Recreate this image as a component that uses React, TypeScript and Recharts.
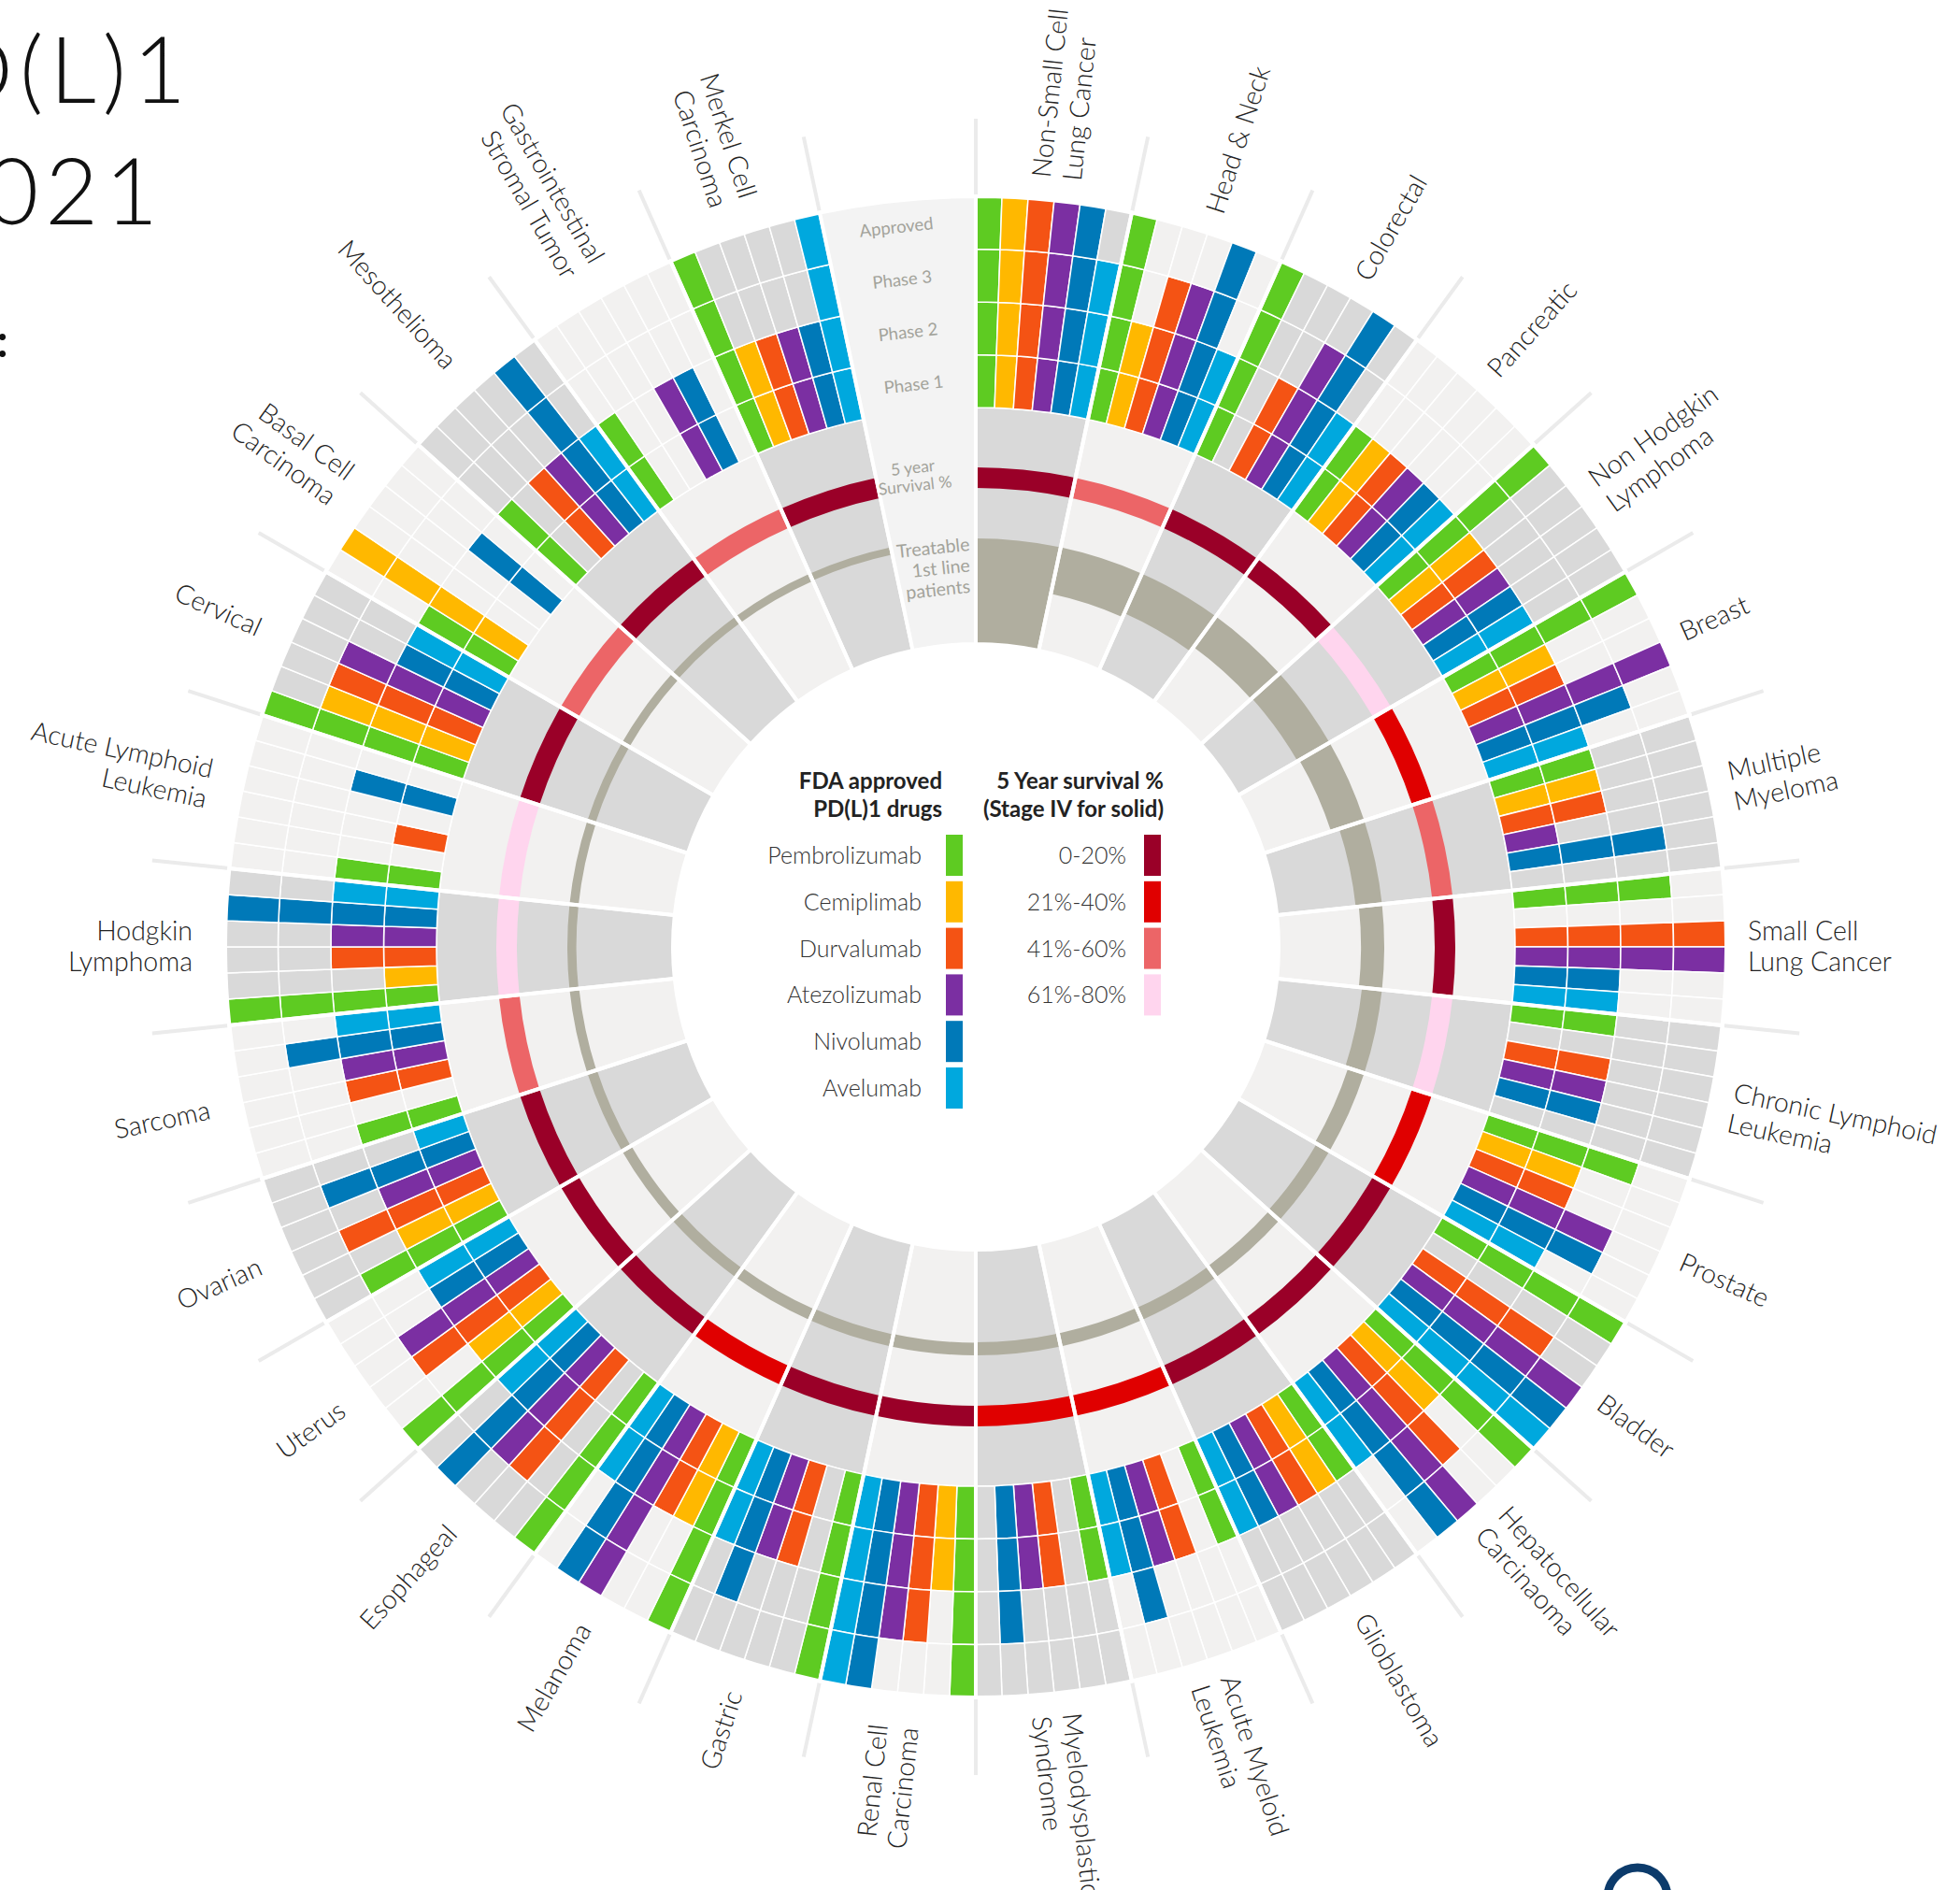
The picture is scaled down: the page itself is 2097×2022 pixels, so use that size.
import React from 'react'
import {
  PieChart,
  Pie,
  Cell,
  RadialBarChart,
  RadialBar,
  PolarAngleAxis,
  PolarRadiusAxis,
  PolarGrid,
} from 'recharts'

const W = 2097
const H = 2022
const CX = 1044
const CY = 1013

// clockwise from 12 o'clock, one 12 degree sector each
const CANCERS = [
  'Non-Small Cell\nLung Cancer', 'Head & Neck', 'Colorectal', 'Pancreatic', 'Non Hodgkin\nLymphoma',
  'Breast', 'Multiple\nMyeloma', 'Small Cell\nLung Cancer', 'Chronic Lymphoid\nLeukemia', 'Prostate',
  'Bladder', 'Hepatocellular\nCarcinaoma', 'Glioblastoma', 'Acute Myeloid\nLeukemia', 'Myelodysplastic\nSyndrome',
  'Renal Cell\nCarcinoma', 'Gastric', 'Melanoma', 'Esophageal', 'Uterus',
  'Ovarian', 'Sarcoma', 'Hodgkin\nLymphoma', 'Acute Lymphoid\nLeukemia', 'Cervical',
  'Basal Cell\nCarcinoma', 'Mesothelioma', 'Gastrointestinal\nStromal Tumor', 'Merkel Cell\nCarcinoma',
]

const DRUGS = ['Pembrolizumab', 'Cemiplimab', 'Durvalumab', 'Atezolizumab', 'Nivolumab', 'Avelumab']
const DRUG_COLORS = ['#5ECB22', '#FFB800', '#F45314', '#7B2FA2', '#0079B8', '#00A8DE']
const PHASES = ['Phase 1', 'Phase 2', 'Phase 3', 'Approved']

// furthest stage reached per cancer: 0 none, 1 phase 1, 2 phase 2, 3 phase 3, 4 approved
const PEMBROLIZUMAB = [4, 4, 4, 2, 4, 4, 2, 3, 2, 3, 4, 4, 2, 2, 2, 4, 4, 4, 4, 4, 3, 2, 4, 2, 4, 2, 2, 2, 4]
const CEMIPLIMAB = [4, 2, 0, 2, 2, 2, 2, 0, 0, 2, 0, 2, 2, 0, 0, 2, 0, 2, 0, 2, 2, 0, 1, 0, 3, 4, 0, 0, 2]
const DURVALUMAB = [4, 3, 2, 2, 2, 2, 2, 4, 2, 2, 3, 3, 2, 2, 2, 3, 2, 2, 3, 3, 3, 2, 2, 1, 3, 0, 2, 0, 2]
const ATEZOLIZUMAB = [4, 3, 3, 2, 2, 4, 1, 4, 2, 3, 4, 4, 2, 2, 2, 3, 2, 4, 3, 3, 2, 2, 2, 0, 3, 0, 2, 2, 2]
const NIVOLUMAB = [4, 4, 4, 2, 2, 3, 3, 2, 2, 3, 4, 4, 2, 3, 3, 4, 3, 4, 4, 2, 3, 3, 4, 2, 2, 2, 4, 2, 2]
const AVELUMAB = [3, 2, 2, 2, 2, 2, 0, 2, 0, 2, 4, 2, 2, 2, 0, 4, 2, 2, 2, 2, 1, 2, 2, 0, 2, 0, 2, 0, 4]
const DRUG_LEVELS = [PEMBROLIZUMAB, CEMIPLIMAB, DURVALUMAB, ATEZOLIZUMAB, NIVOLUMAB, AVELUMAB]

const SURVIVAL_BINS = ['0-20%', '21%-40%', '41%-60%', '61%-80%']
const SURVIVAL_COLORS = ['#9A0028', '#E00000', '#EC6567', '#FFD5EE']
const SURVIVAL = [0, 2, 0, 0, 3, 1, 2, 0, 3, 1, 0, 0, 0, 1, 1, 0, 0, 1, 0, 0, 0, 2, 3, 3, 0, 2, 0, 2, 0]

// treatable 1st line patients, relative to NSCLC = 100
const TREATABLE = [100, 45, 41, 36, 35, 33, 25, 22, 19, 16, 14, 13, 12.5, 12.5, 12.5, 12, 11.5, 11, 10.5, 10, 9.5, 9, 8.5, 8.5, 8, 8, 7.5, 7.5, 7]

const GRAY_DARK = '#D9D9D9'
const GRAY_LIGHT = '#F2F1F0'
const KEY_FILL = '#F3F3F3'
const TAN = '#B0AE9F'
const CAPTION = '#A3A39B'
const FONT = 'Lato, "Open Sans", sans-serif'
const NO_MARGIN = { top: 0, right: 0, bottom: 0, left: 0 }

const R_INNER = 324
const R_TAN_BASE = 437
const R_SURV_IN = 491
const R_SURV_OUT = 513
const R_GRID_IN = 577
const ROW_H = 56.5
const R_GRID_OUT = R_GRID_IN + PHASES.length * ROW_H
const R_TICK_OUT = 886
const R_LABEL = 826
const R_LABEL_LEFT = 838

const SECTOR_COUNT = CANCERS.length + 1 // the last sector holds the ring captions
const SECTOR_DEG = 360 / SECTOR_COUNT
const RAD = Math.PI / 180

const sectorGray = (s: number) => (s % 2 === 0 ? GRAY_DARK : GRAY_LIGHT)

const sectors = Array.from({ length: SECTOR_COUNT }, (_, s) => ({ name: CANCERS[s] ?? 'key', value: 1 }))

const gridRows = PHASES.map((_, row) =>
  sectors.flatMap((_, s) =>
    DRUGS.map((_, d) => {
      const level = DRUG_LEVELS[d][s] ?? 0
      return { value: 1, fill: level > row ? DRUG_COLORS[d] : sectorGray(s) }
    })
  )
)

const survivalData = sectors.map((sec, s) => ({
  value: 1,
  fill: SURVIVAL[s] === undefined ? 'transparent' : SURVIVAL_COLORS[SURVIVAL[s]],
}))

const treatData = sectors.map((sec, s) => {
  const v = TREATABLE[s] ?? 0
  return { name: sec.name, tan: v, rest: 100 - v }
})

const boundaryAngles = sectors.map((_, s) => 90 - SECTOR_DEG * s)

const polar = (cx: number, cy: number, r: number, compass: number) => ({
  x: cx + r * Math.sin(compass * RAD),
  y: cy - r * Math.cos(compass * RAD),
})

function renderRingKey(cx: number, cy: number, compass: number) {
  const a = compass - 0.3
  const out: React.ReactNode[] = []
  PHASES.forEach((phase, row) => {
    const p = polar(cx, cy, R_GRID_IN + (row + 0.5) * ROW_H, a)
    out.push(
      <text key={phase} transform={`translate(${p.x},${p.y}) rotate(${a})`} textAnchor="middle" dy="0.35em"
        fontFamily={FONT} fontSize={18.5} fill={CAPTION}>{phase}</text>
    )
  })
  ;['5 year', 'Survival %'].forEach((line, k) => {
    const p = polar(cx, cy, 517 - k * 19, a - 1.2)
    out.push(
      <text key={line} transform={`translate(${p.x},${p.y}) rotate(${a})`} textAnchor="middle" dy="0.35em"
        fontFamily={FONT} fontSize={17.5} fill={CAPTION}>{line}</text>
    )
  })
  ;['Treatable', '1st line', 'patients'].forEach((line, k) => {
    const p = polar(cx, cy, 431 - k * 22.5, compass + 5.1)
    out.push(
      <text key={line} transform={`translate(${p.x},${p.y}) rotate(${compass})`} textAnchor="end" dy="0.35em"
        fontFamily={FONT} fontSize={19.5} fill={CAPTION}>{line}</text>
    )
  })
  return <g>{out}</g>
}

function renderSectorLabel(props: any) {
  const { cx, cy, midAngle, index } = props
  const compass = (((90 - midAngle) % 360) + 360) % 360
  if (index >= CANCERS.length) return renderRingKey(cx, cy, compass)
  const lines = CANCERS[index].split('\n')
  const right = compass < 180
  const p = polar(cx, cy, right ? R_LABEL : R_LABEL_LEFT, compass)
  const rot = right ? compass - 90 : compass + 90
  return (
    <text transform={`translate(${p.x},${p.y}) rotate(${rot})`} textAnchor={right ? 'start' : 'end'}
      fontFamily={FONT} fontSize={28.5} fontWeight={300} fill="#222">
      {lines.map((line, k) => (
        <tspan key={k} x={0} y={(k - (lines.length - 1) / 2) * 33} dy="0.35em">{line}</tspan>
      ))}
    </text>
  )
}

const LEGEND_ROW0 = 915
const LEGEND_STEP = 49.8

export default function App() {
  const layer: React.CSSProperties = { position: 'absolute', left: 0, top: 0 }
  return (
    <div style={{ position: 'absolute', left: 0, top: 0, width: W, height: H, overflow: 'hidden', background: '#fff' }}>
      <div style={layer}>
        <PieChart width={W} height={H} margin={NO_MARGIN}>
          <Pie data={sectors} dataKey="value" cx={CX} cy={CY} innerRadius={R_INNER} outerRadius={R_GRID_IN}
            startAngle={90} endAngle={-270} stroke="#fff" strokeWidth={1.5} isAnimationActive={false}>
            {sectors.map((_, s) => <Cell key={s} fill={sectorGray(s)} />)}
          </Pie>
          <Pie data={survivalData} dataKey="value" cx={CX} cy={CY} innerRadius={R_SURV_IN} outerRadius={R_SURV_OUT}
            startAngle={90} endAngle={-270} stroke="none" isAnimationActive={false}>
            {survivalData.map((d, s) => <Cell key={s} fill={d.fill} />)}
          </Pie>
          {gridRows.map((cells, row) => (
            <Pie key={row} data={cells} dataKey="value" cx={CX} cy={CY}
              innerRadius={R_GRID_IN + row * ROW_H} outerRadius={R_GRID_IN + (row + 1) * ROW_H}
              startAngle={90} endAngle={-270} stroke="#fff" strokeWidth={1.5} isAnimationActive={false}>
              {cells.map((c, i) => <Cell key={i} fill={c.fill} />)}
            </Pie>
          ))}
        </PieChart>
      </div>

      {/* the category band of the angle axis starts one sector early, so the range is turned back by one */}
      <div style={layer}>
        <RadialBarChart width={W} height={H} margin={NO_MARGIN} cx={CX} cy={CY} innerRadius={R_INNER}
          outerRadius={R_TAN_BASE} startAngle={90 - SECTOR_DEG} endAngle={-270 - SECTOR_DEG} layout="centric"
          data={treatData} barCategoryGap={0} barGap={0}>
          <PolarAngleAxis type="category" dataKey="name" tick={false} axisLine={false} tickLine={false} />
          <PolarRadiusAxis type="number" domain={[0, 100]} tick={false} axisLine={false} />
          <RadialBar dataKey="rest" stackId="t" fill="transparent" isAnimationActive={false} />
          <RadialBar dataKey="tan" stackId="t" fill={TAN} isAnimationActive={false} />
        </RadialBarChart>
      </div>

      <div style={layer}>
        <PieChart width={W} height={H} margin={NO_MARGIN} cx={CX} cy={CY} innerRadius={R_GRID_OUT + 2}
          outerRadius={R_TICK_OUT}>
          <PolarGrid polarAngles={boundaryAngles} polarRadius={[]} stroke="#EBEBEB" strokeWidth={4} />
          <Pie data={sectors} dataKey="value" cx={CX} cy={CY} innerRadius={R_INNER} outerRadius={R_GRID_OUT}
            startAngle={90} endAngle={-270} stroke="#fff" strokeWidth={4} isAnimationActive={false}
            label={renderSectorLabel} labelLine={false}>
            {sectors.map((_, s) => <Cell key={s} fill={s === CANCERS.length ? KEY_FILL : 'transparent'} />)}
          </Pie>
        </PieChart>
      </div>

      <svg style={{ ...layer, pointerEvents: 'none' }} width={W} height={H} fontFamily={FONT}>
        <text x={206} y={110} textAnchor="end" fontSize={98} fontWeight={300} letterSpacing={7} fill="#111">PD(L)1</text>
        <text x={176} y={240} textAnchor="end" fontSize={98} fontWeight={300} letterSpacing={7} fill="#111">2021</text>
        <text x={9} y={382} textAnchor="end" fontSize={50} fontWeight={600} fill="#111">Status:</text>

        <text x={1008} y={844} textAnchor="end" fontSize={24} fontWeight={700} fill="#222">FDA approved</text>
        <text x={1008} y={874} textAnchor="end" fontSize={24} fontWeight={700} fill="#222">PD(L)1 drugs</text>
        <text x={1245} y={844} textAnchor="end" fontSize={24} fontWeight={700} fill="#222">5 Year survival %</text>
        <text x={1245} y={874} textAnchor="end" fontSize={24} fontWeight={700} fill="#222">(Stage IV for solid)</text>
        {DRUGS.map((drug, k) => (
          <g key={drug}>
            <text x={986} y={LEGEND_ROW0 + k * LEGEND_STEP + 9} textAnchor="end" fontSize={25} fontWeight={300} fill="#333">{drug}</text>
            <rect x={1012} y={LEGEND_ROW0 + k * LEGEND_STEP - 22} width={18} height={44} fill={DRUG_COLORS[k]} />
          </g>
        ))}
        {SURVIVAL_BINS.map((bin, k) => (
          <g key={bin}>
            <text x={1205} y={LEGEND_ROW0 + k * LEGEND_STEP + 9} textAnchor="end" fontSize={25} fontWeight={300} fill="#333">{bin}</text>
            <rect x={1224} y={LEGEND_ROW0 + k * LEGEND_STEP - 22} width={18} height={44} fill={SURVIVAL_COLORS[k]} />
          </g>
        ))}

        <circle cx={1752} cy={2030} r={32} fill="none" stroke="#0C3B6B" strokeWidth={9} />
      </svg>
    </div>
  )
}
